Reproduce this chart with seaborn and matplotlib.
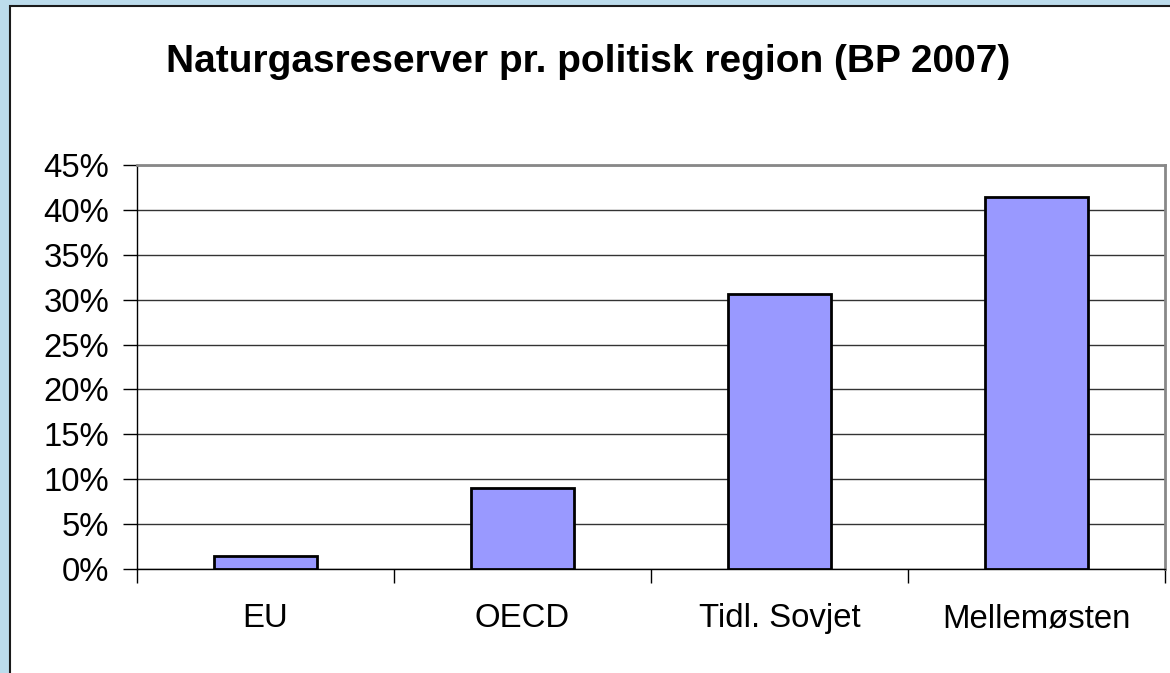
import matplotlib
matplotlib.use("Agg")
import matplotlib.pyplot as plt
from matplotlib.patches import Rectangle
from matplotlib.ticker import FixedLocator, FuncFormatter
import seaborn as sns
import pandas as pd

# values (share of world gas reserves, %)
regions = ["EU", "OECD", "Tidl. Sovjet", "Mellemøsten"]
shares = [1.5, 9.0, 30.6, 41.4]
y_ticks = [0, 5, 10, 15, 20, 25, 30, 35, 40, 45]
title = "Naturgasreserver pr. politisk region (BP 2007)"

df = pd.DataFrame({"region": regions, "share": shares})

sns.set_style("white")
plt.rcParams["font.family"] = ["Liberation Sans", "DejaVu Sans"]
plt.rcParams["text.color"] = "black"
plt.rcParams["xtick.color"] = "black"
plt.rcParams["ytick.color"] = "black"

W, H = 1170, 673
fig = plt.figure(figsize=(W / 100, H / 100), dpi=100)
fig.patch.set_facecolor("#BCDCEC")

# white chart panel with dark border
panel = Rectangle((10 / W, -0.05), 1.1, 1 - 6 / H + 0.05, transform=fig.transFigure,
                  facecolor="white", edgecolor="#1a1a1a", linewidth=1.5, zorder=-5)
fig.patches.append(panel)

ax = fig.add_axes([137 / W, (H - 569) / H, (1165 - 137) / W, (569 - 165) / H])
ax.set_facecolor("white")

sns.barplot(data=df, x="region", y="share", color="#9999FF", width=0.4,
            edgecolor="black", linewidth=2.0, saturation=1, ax=ax, zorder=3)

ax.set_ylim(0, 45)
ax.set_xlim(-0.5, len(regions) - 0.5)
ax.set_yticks(y_ticks)
ax.yaxis.set_major_formatter(FuncFormatter(lambda v, p: f"{v:.0f}%"))
ax.yaxis.grid(True, color="#333333", linewidth=1.0, zorder=1)
ax.set_axisbelow(True)
ax.set_xlabel("")
ax.set_ylabel("")

ax.xaxis.set_minor_locator(FixedLocator([i - 0.5 for i in range(len(regions) + 1)]))
ax.tick_params(axis="x", which="major", length=0, pad=42, labelsize=23.7)
ax.tick_params(axis="x", which="minor", direction="out", length=10, width=1, color="black", bottom=True)
ax.tick_params(axis="y", which="major", direction="out", length=10, width=1, color="black",
               left=True, pad=10, labelsize=23.7)
for lbl in ax.get_xticklabels():
    lbl.set_verticalalignment("baseline")

for side in ["left", "bottom"]:
    ax.spines[side].set_color("black")
    ax.spines[side].set_linewidth(1.0)
for side in ["top", "right"]:
    ax.spines[side].set_visible(True)
    ax.spines[side].set_color("#888888")
    ax.spines[side].set_linewidth(2.0)

fig.text(588 / W, 1 - 72 / H, title, ha="center", va="baseline",
         fontsize=28, fontweight="bold", color="black")

fig.savefig("out.png", dpi=100, facecolor=fig.get_facecolor())
